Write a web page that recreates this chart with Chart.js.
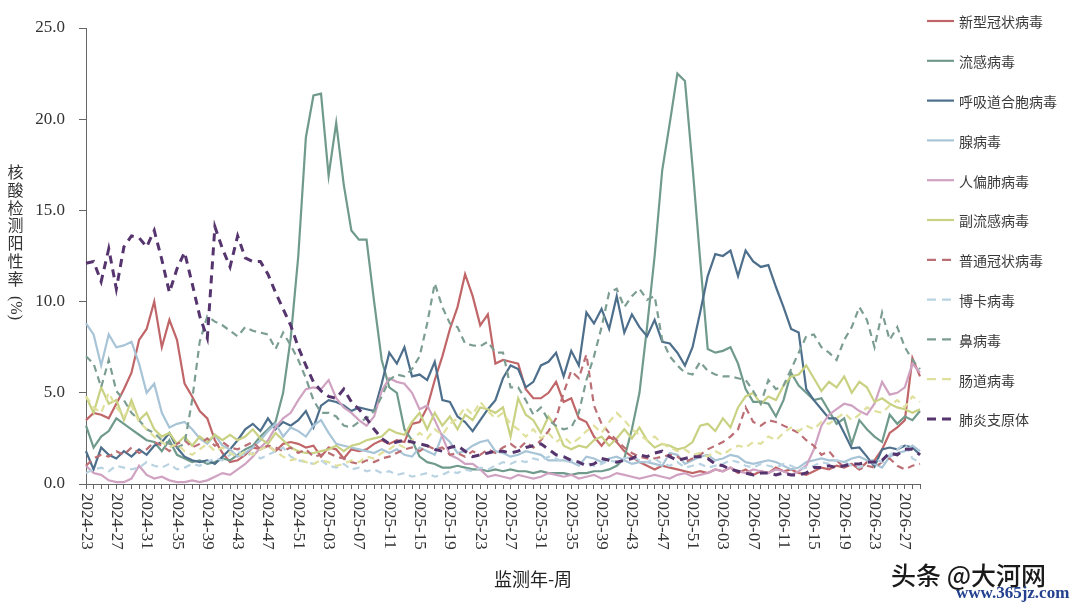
<!DOCTYPE html>
<html>
<head>
<meta charset="utf-8">
<script src="https://cdn.jsdelivr.net/npm/chart.js@4/dist/chart.umd.min.js"></script>
<style>
html,body{margin:0;padding:0;background:#fff;}
#wrap{width:1080px;height:608px;position:relative;background:#fff;}
</style>
</head>
<body>
<div id="wrap"><canvas id="c" width="1080" height="608" style="width:1080px;height:608px"></canvas></div>
<script>
// ---------- categories ----------
const startYear = 2024, startWeek = 23, weekCount = 111, weeksInYear = 52;
const weekLabels = [];
for (let k = 0, y = startYear, w = startWeek; k < weekCount; k++) {
  weekLabels.push(y + '-' + String(w).padStart(2, '0'));
  w++; if (w > weeksInYear) { w = 1; y++; }
}
const labelEvery = 4;
const yTicks = [0, 5, 10, 15, 20, 25];

// ---------- series names ----------
const seriesNames = ['新型冠状病毒','流感病毒','呼吸道合胞病毒','腺病毒','人偏肺病毒','副流感病毒','普通冠状病毒','博卡病毒','鼻病毒','肠道病毒','肺炎支原体'];

// ---------- series values (%) ----------
const sarsCov2 = [3.5,3.9,3.8,3.6,4.4,5.2,6.1,7.9,8.5,10.0, 7.5,9.0,7.9,5.5,4.8,4.0,3.6,2.4,1.7,1.2, 1.3,1.6,2.0,1.9,2.1,1.8,2.2,2.3,2.2,2.0, 2.1,1.5,2.0,1.9,1.4,1.9,1.8,1.9,2.2,2.4, 2.2,2.4,2.3,3.3,3.4,4.2,5.7,7.0,8.5,9.7, 11.5,10.3,8.7,9.3,6.6,6.8,6.7,6.6,5.2,4.7, 4.7,5.0,5.6,4.5,4.7,3.6,3.4,2.6,2.1,2.6, 2.3,1.8,1.5,1.2,1.0,0.8,1.0,0.9,0.8,0.7, 0.6,0.7,0.6,0.8,0.7,0.9,0.6,0.8,0.5,0.7, 0.6,0.9,0.7,0.8,0.6,0.5,0.7,0.9,0.8,1.0, 0.9,1.1,0.8,1.2,1.3,1.9,2.8,3.1,3.5,6.9,5.9];
const influenza = [3.2,2.0,2.6,2.9,3.6,3.3,3.0,2.7,2.4,2.3, 1.8,2.4,1.6,1.4,1.2,1.3,1.1,1.2,1.4,1.3, 1.6,1.9,2.1,2.6,3.0,3.4,5.0,8.0,12.5,19.0, 21.3,21.4,16.9,19.8,16.4,13.9,13.4,13.4,10.0,6.8, 5.3,5.0,3.0,2.4,1.5,1.2,1.1,0.9,0.9,1.0, 0.9,0.8,0.8,0.7,0.8,0.7,0.8,0.7,0.7,0.6, 0.7,0.6,0.6,0.6,0.5,0.6,0.6,0.7,0.7,0.8, 1.0,1.4,3.0,5.0,8.6,12.5,17.2,19.8,22.5,22.1, 17.4,12.3,7.4,7.2,7.3,7.5,6.6,5.2,4.5,4.5, 4.4,3.7,4.6,6.1,5.4,5.0,4.6,4.7,4.0,3.3, 3.6,2.2,3.5,3.0,2.6,2.3,3.8,3.3,3.7,3.5,4.0];
const rsv = [1.8,0.8,2.0,1.6,1.4,1.8,1.5,1.9,1.6,2.1, 2.3,2.8,2.0,1.5,1.3,1.2,1.3,1.1,1.5,1.9, 2.4,3.0,3.3,2.9,3.6,3.0,3.4,3.2,3.5,4.0, 3.1,4.3,4.6,4.5,4.3,4.0,4.2,4.1,4.0,5.5, 7.2,6.6,7.5,5.9,6.0,5.7,6.7,4.6,4.5,3.7, 3.4,2.9,3.5,4.1,4.6,5.8,6.5,6.3,5.3,5.6, 6.5,6.7,7.2,5.9,7.3,6.5,9.4,8.8,9.6,8.5, 10.3,8.3,9.3,8.6,8.1,9.0,7.8,7.7,7.2,6.5, 7.5,9.4,11.4,12.6,12.5,12.8,11.4,12.8,12.2,11.9, 12.0,10.8,9.7,8.5,8.3,5.2,4.6,4.1,3.6,3.6, 2.8,1.95,2.0,1.5,0.95,1.9,2.0,1.9,2.1,2.0,1.6];
const adenovirus = [8.8,8.2,6.5,8.2,7.5,7.6,7.8,6.6,5.0,5.5, 3.9,3.1,3.3,3.4,3.0,2.5,2.2,2.7,2.1,1.9, 1.5,1.7,2.0,2.4,2.9,3.3,2.6,3.1,2.9,2.6, 3.2,3.5,2.8,2.2,2.1,2.0,1.9,1.8,1.7,1.9, 1.7,1.9,1.6,1.5,2.0,1.8,1.6,2.7,2.3,1.7, 1.8,2.1,2.3,2.4,1.8,1.7,1.5,1.6,1.8,1.7, 1.6,1.3,1.3,1.3,1.2,1.0,1.5,1.4,1.2,1.4, 1.5,1.3,1.1,1.2,1.2,1.1,1.0,1.7,1.6,1.1, 1.3,1.5,1.6,1.3,1.4,1.6,1.5,1.2,1.1,1.2, 1.3,1.2,1.0,0.8,0.9,1.2,1.3,1.4,1.3,1.3, 1.2,1.4,1.5,1.3,1.1,0.9,1.5,1.7,1.8,2.1,1.8];
const hmpv = [1.0,0.6,0.5,0.2,0.1,0.1,0.3,1.0,0.5,0.3, 0.4,0.2,0.1,0.1,0.2,0.1,0.2,0.4,0.6,0.5, 0.8,1.1,1.5,2.0,2.4,3.1,3.6,3.9,4.6,5.2, 5.3,5.2,5.7,4.7,4.2,3.9,3.5,3.2,3.7,5.1, 5.8,5.6,5.5,5.0,4.1,4.3,3.5,2.6,1.6,1.4, 1.1,1.1,0.8,0.4,0.5,0.4,0.3,0.5,0.4,0.3, 0.4,0.6,0.5,0.4,0.5,0.3,0.4,0.5,0.3,0.4, 0.6,0.5,0.4,0.3,0.4,0.5,0.4,0.3,0.5,0.6, 0.4,0.5,0.6,0.8,0.7,0.9,0.7,0.6,0.8,0.7, 0.6,0.8,0.7,0.5,0.7,1.0,1.9,3.2,3.8,4.1, 4.4,4.3,4.0,3.8,4.4,5.6,4.9,5.0,5.3,6.6,6.1];
const parainfluenza = [4.8,3.9,5.3,4.4,4.6,3.5,4.6,3.5,3.9,3.0, 2.6,2.8,2.2,2.6,2.1,2.6,2.3,2.7,2.4,2.7, 2.4,2.6,3.0,2.5,2.2,2.8,2.4,2.0,1.8,1.7, 1.7,1.8,1.9,2.1,1.8,2.1,2.2,2.4,2.5,2.6, 3.0,2.8,2.7,3.4,3.9,3.0,3.9,3.2,3.7,3.0, 3.8,3.5,4.2,4.1,3.9,4.2,2.6,4.7,3.8,3.5, 2.8,3.7,3.1,2.1,1.9,2.1,2.0,2.4,2.6,2.1, 2.5,3.0,2.5,3.1,2.4,2.0,2.2,2.1,1.9,2.0, 2.3,3.2,3.3,2.9,3.6,3.1,4.2,4.8,5.0,4.4, 4.8,4.6,5.4,5.9,6.0,6.5,5.8,5.1,5.6,5.3, 5.9,5.0,5.6,5.3,4.5,4.7,4.4,4.2,4.1,3.9,4.1];
const seasonalCov = [1.0,1.4,1.6,1.5,1.8,1.6,2.0,1.7,1.9,2.3, 2.1,1.8,2.2,2.4,2.0,2.2,2.5,2.1,2.3,2.0, 1.9,2.1,2.3,1.9,2.1,2.0,1.8,2.0,1.7,1.9, 1.5,1.6,1.7,1.5,1.4,1.2,1.1,1.3,1.2,1.4, 1.5,1.7,1.9,2.0,1.8,2.1,1.9,2.0,1.6,1.7, 1.5,1.8,1.6,1.9,1.7,2.0,2.2,1.9,2.3,2.0, 2.4,2.9,3.6,5.0,6.2,5.8,7.1,4.3,3.3,2.8, 2.4,2.0,1.7,1.5,1.4,1.4,1.5,1.6,1.5,1.2, 1.4,1.6,1.9,2.1,2.3,2.6,3.0,4.2,3.4,3.2, 3.5,3.4,3.2,3.0,2.8,2.4,2.1,1.6,1.8,1.3, 0.9,1.1,0.8,1.0,0.9,1.2,1.4,1.0,0.8,1.0,1.1];
const bocavirus = [0.6,0.8,0.9,0.7,1.0,0.9,0.8,0.9,1.2,1.0, 0.9,1.1,0.8,0.9,1.1,1.0,1.2,1.4,1.3,1.6, 1.8,1.5,1.7,1.4,1.6,1.8,2.0,1.5,1.3,1.2, 1.1,1.3,1.0,0.9,1.1,0.8,0.9,0.7,0.8,0.6, 0.7,0.5,0.6,0.4,0.5,0.6,0.4,0.5,0.7,0.6, 0.8,0.7,0.9,0.8,1.0,1.2,1.1,1.3,1.2,1.4, 1.3,1.5,1.4,1.2,1.3,1.1,1.2,1.0,1.1,1.3, 1.2,1.4,1.5,1.3,1.2,1.4,1.1,1.0,1.2,0.9, 1.0,1.1,0.9,1.0,1.1,1.3,1.2,1.0,0.9,1.1, 1.0,0.9,1.1,1.0,0.8,0.9,1.0,1.2,1.1,1.3, 1.2,1.0,0.9,1.1,1.4,1.2,1.6,1.9,2.2,1.4,1.2];
const rhinovirus = [7.0,6.6,5.3,6.8,5.1,4.6,3.9,3.5,3.0,2.8, 2.4,2.2,2.0,2.2,4.6,7.8,9.2,8.9,8.7,8.4, 8.1,8.6,8.4,8.3,8.2,7.4,8.3,7.6,6.8,5.8, 4.6,3.9,3.9,3.7,3.2,3.1,3.4,3.6,4.0,4.8, 5.7,6.0,5.9,6.3,7.0,8.8,11.0,9.7,8.8,8.6, 7.7,7.6,7.55,7.8,7.2,7.2,5.3,5.3,4.6,3.8, 4.2,3.5,3.2,3.0,3.1,3.9,5.7,7.0,8.6,10.5, 10.7,9.7,10.3,10.7,10.1,10.3,7.9,7.0,6.5,6.1, 6.0,6.7,6.2,6.0,5.9,5.9,5.8,5.7,5.1,4.4, 5.7,5.2,5.4,6.3,7.2,8.1,8.2,7.5,7.2,6.8, 7.9,8.6,9.7,9.0,7.5,9.4,7.9,8.6,7.5,6.8,6.3];
const enterovirus = [4.8,4.2,3.9,5.0,4.2,3.7,4.3,3.4,3.0,2.6, 2.3,2.0,2.2,1.8,1.6,1.9,2.2,1.8,2.0,1.7, 1.5,1.8,1.6,1.9,2.1,1.8,1.5,1.3,1.4,1.2, 1.1,1.3,1.2,1.0,1.1,1.3,1.2,1.5,1.4,1.7, 1.9,2.2,2.0,2.4,2.8,2.5,3.0,2.7,3.3,3.6, 4.2,3.8,4.5,4.0,3.6,3.9,3.3,3.0,2.6,3.0, 2.5,2.8,2.3,2.6,2.2,2.5,2.9,3.2,2.8,3.4, 3.9,3.5,3.0,2.7,2.4,2.6,2.2,2.0,1.8,1.9, 1.6,1.7,1.5,1.8,1.6,1.9,2.1,2.0,2.3,2.2, 2.6,2.4,2.8,3.1,2.9,3.2,3.0,3.4,3.3,3.6, 3.9,3.5,3.8,4.2,4.0,3.9,4.3,4.6,4.2,4.8,4.5];
const mycoplasma = [12.1,12.2,11.1,12.9,10.7,13.0,13.6,13.5,13.0,13.9, 12.3,10.5,11.8,12.7,11.0,9.2,8.0,14.1,12.9,11.9, 13.6,12.4,12.2,12.2,11.5,10.5,9.6,8.7,7.5,6.5, 5.6,5.1,4.8,4.7,5.2,4.5,4.1,3.6,3.0,2.5, 2.2,2.3,2.4,2.3,2.2,2.1,1.9,1.8,2.0,2.1, 1.8,1.5,1.6,1.7,1.8,1.8,1.7,1.8,2.0,2.1, 2.2,1.9,1.6,1.5,1.3,1.2,1.0,1.1,1.4,1.3, 1.2,1.3,1.4,1.6,1.5,1.7,1.8,1.5,1.3,1.4, 1.5,1.5,1.4,1.1,1.0,0.8,0.7,0.6,0.5,0.6, 0.6,0.5,0.6,0.5,0.5,0.6,0.9,0.9,1.0,0.9, 1.0,1.1,1.1,1.2,1.2,1.3,1.7,1.6,1.9,1.9,1.6];

const seriesValues = [sarsCov2, influenza, rsv, adenovirus, hmpv, parainfluenza, seasonalCov, bocavirus, rhinovirus, enterovirus, mycoplasma];

// ---------- styles ----------
const seriesColors = ['#c06668','#6f9a8c','#4d6f8c','#a8c4d7','#d0a2c2','#c9d182','#bb6e74','#b9d3e2','#7c9e92','#dfe09c','#56356f'];
const seriesDashed = [false,false,false,false,false,false,true,true,true,true,true];

const serif = '"Liberation Serif","Times New Roman",serif';
const cjk = '"Noto Sans CJK SC","Noto Sans",sans-serif';

const datasets = seriesNames.map((name, k) => ({
  label: name,
  data: seriesValues[k],
  borderColor: seriesColors[k],
  backgroundColor: seriesColors[k],
  borderWidth: k === 10 ? 3 : 2.2,
  borderDash: seriesDashed[k] ? (k === 10 ? [8, 6] : [7, 5]) : [],
  pointRadius: 0,
  pointHoverRadius: 0,
  tension: 0,
  fill: false,
  order: -k
}));

const decor = {
  id: 'decor',
  afterDraw(chart) {
    const ctx = chart.ctx;
    const xs = chart.scales.x;
    ctx.save();
    // x tick labels, rotated clockwise
    ctx.fillStyle = '#333';
    ctx.font = '17px ' + serif;
    ctx.textAlign = 'left';
    ctx.textBaseline = 'middle';
    weekLabels.forEach((lab, i) => {
      if (i % labelEvery !== 0) return;
      const x = xs.getPixelForTick(i);
      ctx.save();
      ctx.translate(x, xs.top + 9);
      ctx.rotate(Math.PI / 2);
      ctx.fillText(lab, 0, 0);
      ctx.restore();
    });
    // x axis title
    ctx.font = '18px ' + cjk;
    ctx.textAlign = 'center';
    ctx.fillStyle = '#222';
    ctx.fillText('监测年-周', 533, 579);
    // y axis title, stacked characters
    const yTitle = '核酸检测阳性率';
    ctx.font = '16px ' + cjk;
    ctx.fillStyle = '#333';
    for (let k = 0; k < yTitle.length; k++) {
      ctx.fillText(yTitle[k], 15.5, 172 + k * 17.8);
    }
    ctx.save();
    ctx.translate(15.5, 308);
    ctx.rotate(Math.PI / 2);
    ctx.font = '16px ' + serif;
    ctx.fillText('(%)', 0, 0);
    ctx.restore();
    // legend
    chart.data.datasets.forEach((ds, k) => {
      const y = 21 + k * 39.8;
      ctx.save();
      ctx.strokeStyle = ds.borderColor;
      ctx.lineWidth = ds.borderWidth;
      ctx.setLineDash(ds.borderDash.length ? [9, 6] : []);
      ctx.beginPath();
      ctx.moveTo(927, y);
      ctx.lineTo(954, y);
      ctx.stroke();
      ctx.restore();
      ctx.fillStyle = '#3a3a3a';
      ctx.font = '14px ' + cjk;
      ctx.textAlign = 'left';
      ctx.fillText(ds.label, 959, y + 1);
    });
    // watermark
    ctx.font = '500 25px ' + cjk;
    ctx.textAlign = 'left';
    ctx.lineWidth = 3;
    ctx.strokeStyle = '#fff';
    ctx.strokeText('头条 @大河网', 891, 575);
    ctx.fillStyle = '#1a1a1a';
    ctx.fillText('头条 @大河网', 891, 575);
    ctx.font = 'bold 17px ' + serif;
    ctx.fillStyle = '#23418f';
    ctx.fillText('www.365jz.com', 956, 594);
    ctx.restore();
  }
};

new Chart(document.getElementById('c'), {
  type: 'line',
  data: { labels: weekLabels, datasets },
  options: {
    responsive: false,
    animation: false,
    devicePixelRatio: 1,
    layout: { padding: { left: 0, right: 160, top: 28, bottom: 0 } },
    plugins: { legend: { display: false }, tooltip: { enabled: false }, title: { display: false } },
    scales: {
      x: {
        type: 'category',
        offset: false,
        grid: { display: true, drawOnChartArea: false, drawTicks: true, tickLength: 5, color: '#666', lineWidth: 1 },
        border: { display: true, color: '#666', width: 1 },
        ticks: { display: false, autoSkip: false },
        afterFit(s) { s.height = 124; s.paddingLeft = 0; s.paddingRight = 0; }
      },
      y: {
        min: 0, max: 25,
        afterBuildTicks(s) { s.ticks = yTicks.map(v => ({ value: v })); },
        grid: { display: true, drawOnChartArea: false, drawTicks: true, tickLength: 7, color: '#666', lineWidth: 1 },
        border: { display: true, color: '#666', width: 1 },
        ticks: { color: '#333', padding: 14, font: { family: serif, size: 17 }, callback: v => Number(v).toFixed(1) },
        afterFit(s) { s.width = 86; s.paddingTop = 0; s.paddingBottom = 0; }
      }
    }
  },
  plugins: [decor]
});
</script>
</body>
</html>
